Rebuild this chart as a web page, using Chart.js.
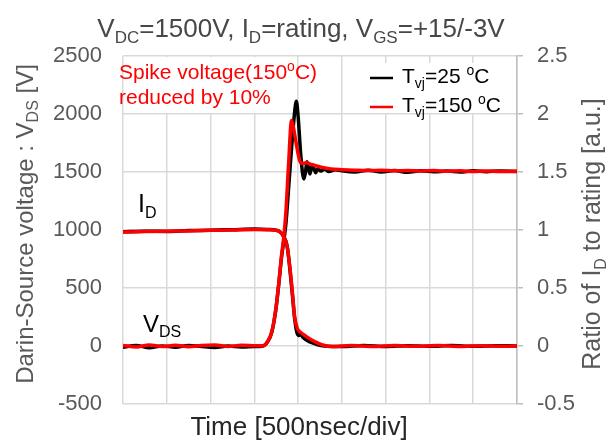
<!DOCTYPE html>
<html>
<head>
<meta charset="utf-8">
<script src="https://cdn.jsdelivr.net/npm/chart.js@4"></script>
<style>
  body { margin: 0; background: #fff; }
  canvas { display: block; }
</style>
</head>
<body>
<canvas id="swChart" width="607" height="441"></canvas>
<script>
// time in divisions (500 ns/div), 9 divisions shown
const tVds25 = [0, 0.3, 0.6, 0.9, 1.2, 1.5, 1.8, 2.1, 2.4, 2.7, 3.0, 3.2, 3.3, 3.4, 3.49, 3.56, 3.62, 3.67, 3.72, 3.8, 3.88, 3.94, 3.96, 4.0, 4.06, 4.13, 4.17, 4.2, 4.24, 4.27, 4.3, 4.33, 4.37, 4.4, 4.45, 4.52, 4.6, 4.7, 4.85, 5.0, 5.3, 5.6, 5.9, 6.2, 6.5, 6.8, 7.1, 7.4, 7.7, 8.0, 8.3, 8.6, 9.0];
const vds25 = [-10, 5, -15, 0, -10, 5, -5, -12, 0, -8, -5, 0, 35, 120, 310, 540, 760, 900, 1050, 1450, 1850, 2080, 2110, 1980, 1650, 1440, 1500, 1589, 1530, 1483, 1530, 1560, 1520, 1494, 1530, 1508, 1525, 1505, 1520, 1510, 1500, 1515, 1500, 1512, 1498, 1510, 1502, 1508, 1500, 1510, 1503, 1508, 1505];

const tVds150 = [0, 0.3, 0.6, 0.9, 1.2, 1.5, 1.8, 2.1, 2.4, 2.7, 3.0, 3.2, 3.3, 3.4, 3.49, 3.56, 3.62, 3.67, 3.72, 3.78, 3.85, 3.89, 3.95, 4.02, 4.06, 4.12, 4.2, 4.3, 4.4, 4.55, 4.75, 5.0, 5.3, 5.6, 5.9, 6.2, 6.5, 6.8, 7.1, 7.4, 7.7, 8.0, 8.3, 8.6, 9.0];
const vds150 = [5, -8, 8, -5, 6, -6, 4, 8, -4, 6, 2, 0, 35, 125, 315, 545, 775, 930, 1150, 1550, 1945, 1890, 1760, 1620, 1580, 1575, 1580, 1565, 1555, 1540, 1525, 1520, 1515, 1512, 1516, 1510, 1513, 1508, 1512, 1506, 1510, 1505, 1509, 1504, 1506];

// I_D as ratio to rating
const tId25 = [0, 0.5, 1.0, 1.5, 2.0, 2.5, 3.0, 3.3, 3.5, 3.58, 3.67, 3.75, 3.81, 3.87, 3.92, 3.97, 4.02, 4.06, 4.12, 4.2, 4.3, 4.45, 4.6, 5.0, 5.5, 6.0, 6.5, 7.0, 7.5, 8.0, 8.5, 9.0];
const id25 = [0.985, 0.99, 0.988, 0.995, 0.998, 1.003, 1.008, 1.005, 0.998, 0.985, 0.945, 0.86, 0.67, 0.44, 0.24, 0.12, 0.09, 0.1, 0.07, 0.05, 0.03, 0.01, 0, -0.005, 0.005, -0.004, 0.003, -0.003, 0.004, -0.002, 0.003, 0];

const tId150 = [0, 0.5, 1.0, 1.5, 2.0, 2.5, 3.0, 3.3, 3.5, 3.58, 3.67, 3.75, 3.81, 3.87, 3.92, 3.98, 4.04, 4.19, 4.38, 4.56, 4.79, 5.2, 5.7, 6.2, 6.7, 7.2, 7.7, 8.2, 8.7, 9.0];
const id150 = [0.982, 0.987, 0.99, 0.992, 0.997, 1.0, 1.004, 1.002, 0.997, 0.985, 0.942, 0.856, 0.684, 0.457, 0.253, 0.153, 0.124, 0.081, 0.038, 0.009, -0.005, 0.004, -0.004, 0.005, -0.003, 0.004, -0.004, 0.003, -0.003, 0.002];

const vTicks = [-500, 0, 500, 1000, 1500, 2000, 2500];
const ratioTicks = [-0.5, 0, 0.5, 1, 1.5, 2, 2.5];

const FONT = '"Liberation Sans", Arial, sans-serif';
const GRID = '#d9d9d9';

function pairs(ts, vs) {
  return ts.map((t, i) => ({ x: t, y: vs[i] }));
}

// text with sub/superscripts, parts = [[text, ''|'sub'|'sup'], ...]
function drawRich(ctx, parts, x, y, size, color, align) {
  const small = Math.round(size * 0.65);
  let w = 0;
  parts.forEach(p => {
    ctx.font = (p[1] ? small : size) + 'px ' + FONT;
    w += ctx.measureText(p[0]).width;
  });
  let cx = align === 'center' ? x - w / 2 : x;
  ctx.textAlign = 'left';
  ctx.textBaseline = 'alphabetic';
  ctx.fillStyle = color;
  parts.forEach(p => {
    ctx.font = (p[1] ? small : size) + 'px ' + FONT;
    let dy = 0;
    if (p[1] === 'sub') dy = size * 0.22;
    if (p[1] === 'sup') dy = -size * 0.38;
    ctx.fillText(p[0], cx, y + dy);
    cx += ctx.measureText(p[0]).width;
  });
}

const textPlugin = {
  id: 'texts',
  beforeDatasetsDraw(chart) {
    const ctx = chart.ctx;
    ctx.save();
    ctx.fillStyle = '#fff';
    ctx.fillRect(124, 57, 170, 56);   // behind annotation
    ctx.fillRect(364, 63, 152, 50);   // behind legend
    ctx.restore();
  },
  afterDraw(chart) {
    const ctx = chart.ctx;
    ctx.save();
    drawRich(ctx, [['V', ''], ['DC', 'sub'], ['=1500V, I', ''], ['D', 'sub'], ['=rating, V', ''], ['GS', 'sub'], ['=+15/-3V', '']], 301, 37, 26, '#474747', 'center');

    ctx.save();
    ctx.translate(33, 224);
    ctx.rotate(-Math.PI / 2);
    drawRich(ctx, [['Darin-Source voltage : V', ''], ['DS', 'sub'], [' [V]', '']], 0, 0, 24, '#595959', 'center');
    ctx.restore();

    ctx.save();
    ctx.translate(600, 234);
    ctx.rotate(-Math.PI / 2);
    drawRich(ctx, [['Ratio of I', ''], ['D', 'sub'], [' to rating [a.u.]', '']], 0, 0, 25, '#595959', 'center');
    ctx.restore();

    drawRich(ctx, [['Time [500nsec/div]', '']], 299, 435, 26, '#262626', 'center');

    drawRich(ctx, [['Spike voltage(150', ''], ['o', 'sup'], ['C)', '']], 119, 79, 21, '#ff0000', 'left');
    drawRich(ctx, [['reduced by 10%', '']], 119, 104, 21, '#ff0000', 'left');

    drawRich(ctx, [['I', ''], ['D', 'sub']], 138, 212, 25, '#000', 'left');
    drawRich(ctx, [['V', ''], ['DS', 'sub']], 143, 332, 24, '#000', 'left');

    // legend
    ctx.lineWidth = 2.5;
    ctx.strokeStyle = '#000';
    ctx.beginPath(); ctx.moveTo(370, 78); ctx.lineTo(393, 78); ctx.stroke();
    ctx.strokeStyle = '#ff0000';
    ctx.beginPath(); ctx.moveTo(370, 107); ctx.lineTo(393, 107); ctx.stroke();
    drawRich(ctx, [['T', ''], ['vj', 'sub'], ['=25 ', ''], ['o', 'sup'], ['C', '']], 402, 83, 21, '#000', 'left');
    drawRich(ctx, [['T', ''], ['vj', 'sub'], ['=150 ', ''], ['o', 'sup'], ['C', '']], 402, 112, 21, '#000', 'left');
    ctx.restore();
  }
};

const lineStyle = {
  pointRadius: 0,
  borderWidth: 3.5,
  cubicInterpolationMode: 'monotone',
  fill: false
};

const ctx = document.getElementById('swChart').getContext('2d');
new Chart(ctx, {
  type: 'line',
  data: {
    datasets: [
      { ...lineStyle, label: 'VDS 150', data: pairs(tVds150, vds150), borderColor: '#ff0000', yAxisID: 'y', order: 0 },
      { ...lineStyle, label: 'ID 150', data: pairs(tId150, id150), borderColor: '#ff0000', yAxisID: 'y1', order: 1 },
      { ...lineStyle, label: 'VDS 25', data: pairs(tVds25, vds25), borderColor: '#000000', yAxisID: 'y', order: 2 },
      { ...lineStyle, label: 'ID 25', data: pairs(tId25, id25), borderColor: '#000000', yAxisID: 'y1', order: 3 }
    ]
  },
  options: {
    responsive: false,
    animation: false,
    layout: { padding: { top: 56, left: 0, right: 0, bottom: 0 } },
    plugins: {
      legend: { display: false },
      tooltip: { enabled: false }
    },
    scales: {
      x: {
        type: 'linear',
        min: 0,
        max: 9,
        ticks: { stepSize: 1, display: false },
        grid: { color: GRID, lineWidth: 1.5, drawTicks: false },
        border: { display: false },
        afterFit: s => { s.height = 37; }
      },
      y: {
        position: 'left',
        min: -500,
        max: 2500,
        afterBuildTicks: s => { s.ticks = vTicks.map(v => ({ value: v })); },
        ticks: { color: '#595959', font: { size: 22, family: FONT }, padding: 21, callback: v => String(v) },
        grid: { color: GRID, lineWidth: 1.5, drawTicks: false },
        border: { display: false },
        afterFit: s => { s.width = 123; }
      },
      y1: {
        position: 'right',
        min: -0.5,
        max: 2.5,
        afterBuildTicks: s => { s.ticks = ratioTicks.map(v => ({ value: v })); },
        ticks: { color: '#595959', font: { size: 22, family: FONT }, padding: 14, callback: v => String(v) },
        grid: { drawOnChartArea: false, drawTicks: true, tickLength: 6, color: '#bfbfbf', lineWidth: 1.5 },
        border: { display: true, color: '#bfbfbf', width: 1.5 },
        afterFit: s => { s.width = 90; }
      }
    }
  },
  plugins: [textPlugin]
});
</script>
</body>
</html>
